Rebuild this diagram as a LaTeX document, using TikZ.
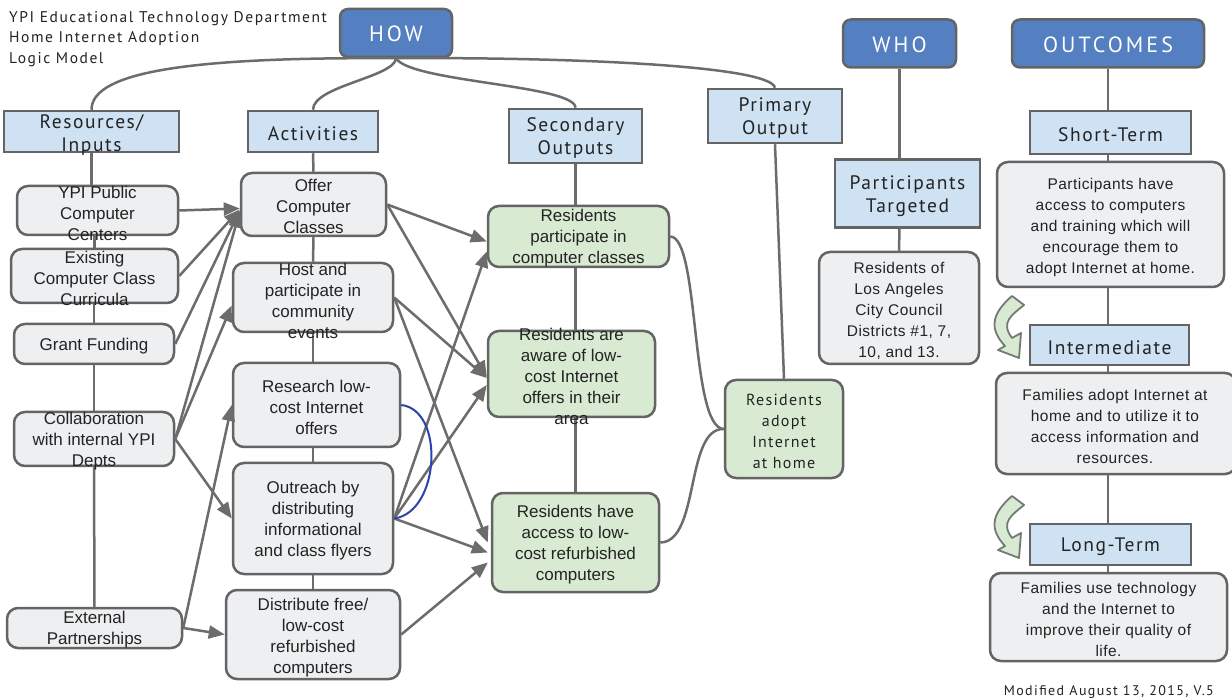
\documentclass[tikz,border=0pt]{standalone}
\usepackage{fontspec}
\setmainfont{Liberation Sans}
\newfontfamily\hf[LetterSpace=8]{PT Sans}
\newfontfamily\hft[LetterSpace=10]{PT Sans}
\newfontfamily\hfw[LetterSpace=14]{PT Sans}
\newfontfamily\rf[LetterSpace=3]{Liberation Sans}
\usetikzlibrary{arrows.meta}
\definecolor{hdrblue}{RGB}{84,127,193}
\definecolor{catblue}{RGB}{207,226,243}
\definecolor{boxgray}{RGB}{238,239,241}
\definecolor{boxgreen}{RGB}{217,234,211}
\definecolor{bordc}{RGB}{100,100,100}
\definecolor{linec}{RGB}{108,108,108}
\definecolor{txtc}{RGB}{35,35,35}
\definecolor{bluec}{RGB}{40,70,170}
\definecolor{gbord}{RGB}{115,122,115}
\begin{document}
\begin{tikzpicture}[x=1pt,y=-1pt,
  hdr/.style={draw=bordc, line width=2.5pt, fill=hdrblue, rounded corners=8pt, inner sep=0pt},
  cat/.style={draw=bordc, line width=2.5pt, fill=catblue, inner sep=0pt},
  gbox/.style={draw=bordc, line width=2.5pt, fill=boxgray, rounded corners=11pt, inner sep=0pt},
  grbox/.style={draw=bordc, line width=2.5pt, fill=boxgreen, rounded corners=11pt, inner sep=0pt},
  hdrt/.style={text=white, font=\hfw\fontsize{22}{26}\selectfont, inner sep=0pt, yshift=-1pt},
  catt/.style={text=txtc, font=\hf\fontsize{19.5}{23}\selectfont, align=center, inner sep=0pt, yshift=-2.5pt},
  btxt/.style={text=txtc, font=\fontsize{17}{21}\selectfont, align=center, inner sep=0pt, yshift=-2pt},
  rtxt/.style={text=txtc, font=\rf\fontsize{15.5}{21}\selectfont, align=center, inner sep=0pt, yshift=-2.5pt},
  adtxt/.style={text=txtc, font=\hf\fontsize{16}{21}\selectfont, align=center, inner sep=0pt, yshift=-2pt},
  conn/.style={draw=linec, line width=2.5pt},
  arr/.style={conn, -{Triangle[length=16pt,width=13pt]}},
  bcurve/.style={draw=bluec, line width=2pt},
  garrow/.style={draw=gbord, fill=boxgreen, line width=1.8pt, line join=round}
]
\useasboundingbox (0,0) rectangle (1232,700);
\fill[white] (0,0) rectangle (1232,700);

% ---------- boxes ----------
\newcommand{\bx}[6]{\node[#1, minimum width=#5pt, minimum height=#6pt] (#2) at (#3,#4) {};}
\bx{hdr}{how}{396}{33}{112}{48}
\bx{hdr}{who}{899.5}{43.5}{113}{48}
\bx{hdr}{out}{1108}{43.5}{192}{48}
\bx{cat}{res}{91.5}{131.5}{175}{41}
\bx{cat}{act}{313}{131.5}{130}{41}
\bx{cat}{sec}{575.5}{136}{133}{54}
\bx{cat}{pri}{775}{116}{134}{54}
\bx{cat}{pt}{907.5}{193.5}{145}{68}
\bx{cat}{st}{1110.5}{132.5}{161}{43}
\bx{cat}{im}{1109.5}{345}{159}{40}
\bx{cat}{lt}{1110.5}{544.5}{161}{41}
\bx{gbox}{yp}{97.5}{210.5}{161}{49}
\bx{gbox}{ex}{94.5}{276}{167}{54}
\bx{gbox}{gf}{94}{344}{160}{40}
\bx{gbox}{co}{94}{439}{160}{54}
\bx{gbox}{ep}{94.5}{628}{175}{40}
\bx{gbox}{of}{313.5}{204.5}{145}{63}
\bx{gbox}{ho}{313}{297.5}{160}{69}
\bx{gbox}{rl}{316.5}{405}{167}{84}
\bx{gbox}{ob}{313}{518.5}{160}{111}
\bx{gbox}{df}{313}{634.5}{174}{89}
\bx{gbox}{la}{899}{308}{160}{112}
\bx{gbox}{ph}{1110.5}{224.5}{227}{125}
\bx{gbox}{fa}{1116}{423.5}{240}{101}
\bx{gbox}{fu}{1108.5}{617}{237}{88}
\bx{grbox}{r1}{578.5}{236.5}{181}{61}
\bx{grbox}{r2}{571.5}{374}{167}{86}
\bx{grbox}{r3}{575.5}{542.5}{167}{99}
\bx{grbox}{ad}{784}{429}{118}{98}

% ---------- tree connectors ----------
\draw[conn] (how.south) .. controls (200,57) and (res.north |- 0,70) .. (res.north);
\draw[conn] (how.south) .. controls (395,77) and (313,86) .. (act.north);
\draw[conn] (how.south) .. controls (410,82) and (575,85) .. (sec.north);
\draw[conn] (how.south) .. controls (560,57) and (770,65) .. (pri.north);

\draw[conn] (res.south) -- (res.south |- yp.north);
\draw[conn] (ex.north |- yp.south) -- (ex.north);
\draw[conn] (gf.north |- ex.south) -- (gf.north);
\draw[conn] (gf.south) -- (co.north);
\draw[conn] (co.south) -- (ep.north);

\draw[conn] (act.south) -- (of.north);
\draw[conn] (of.south) -- (ho.north);
\draw[conn] (ho.south) -- (ho.south |- rl.north);
\draw[conn] (ob.north |- rl.south) -- (ob.north);
\draw[conn] (ob.south) -- (df.north);

\draw[conn] (sec.south) -- (sec.south |- r1.north);
\draw[conn] (sec.south |- r1.south) -- (sec.south |- r2.north);
\draw[conn] (sec.south |- r2.south) -- (sec.south |- r3.north);
\draw[conn] (pri.south) -- (ad.north);

\draw[conn] (who.south) -- (who.south |- pt.north);
\draw[conn] (who.south |- pt.south) -- (la.north);

\draw[conn] (out.south) -- (out.south |- st.north);
\draw[conn] (out.south |- st.south) -- (out.south |- ph.north);
\draw[conn] (out.south |- ph.south) -- (out.south |- im.north);
\draw[conn] (out.south |- im.south) -- (out.south |- fa.north);
\draw[conn] (out.south |- fa.south) -- (out.south |- lt.north);
\draw[conn] (out.south |- lt.south) -- (out.south |- fu.north);

% ---------- left arrows ----------
\draw[arr] (yp.east) -- ([yshift=-4pt]of.west);
\draw[arr] (ex.east) -- ([yshift=-5pt]of.west);
\draw[arr] (gf.east) -- ([yshift=-6pt]of.west);
\draw[arr] (co.east) -- ([yshift=-7pt]of.west);
\draw[arr] (co.east) -- ([yshift=-8pt]ho.west);
\draw[arr] (co.east) -- (ob.west);
\draw[arr] (ep.east) -- (rl.west);
\draw[arr] (ep.east) -- (df.west);

% ---------- middle arrows ----------
\draw[arr] (of.east) -- ([yshift=-5pt]r1.west);
\draw[arr] (of.east) -- ([yshift=-3pt]r2.west);
\draw[arr] (ho.east) -- ([yshift=-4pt]r2.west);
\draw[arr] (ho.east) -- ([xshift=-3pt]r3.west);
\draw[arr] (ob.east) -- ([yshift=-15pt]r1.west);
\draw[arr] (ob.east) -- ([yshift=-11pt]r2.west);
\draw[arr] (ob.east) -- ([xshift=-3pt,yshift=-10pt]r3.west);
\draw[arr] (df.east) -- ([xshift=-3pt,yshift=-20pt]r3.west);
\draw[bcurve] (rl.east) .. controls (445,410) and (440,512) .. (ob.east);

% ---------- curves to adopt ----------
\draw[conn] (r1.east) .. controls (700,237) and (690,428) .. (ad.west);
\draw[conn] (r3.east) .. controls (700,542) and (685,428) .. (ad.west);

% ---------- green bent arrows ----------
\foreach \dy in {0, 200}{
  \path[garrow, shift={(0,\dy)}] (1012,296) -- (1024,305) .. controls (1012,315) and (1000,322) .. (1012,338) -- (1021,333) -- (1019,358) -- (998,350) -- (1005,346) .. controls (990,330) and (990,315) .. cycle;
}

% ---------- texts ----------
\node[hdrt] (how-t) at (how.center) {HOW};
\node[hdrt] (who-t) at (who.center) {WHO};
\node[hdrt] (out-t) at (out.center) {OUTCOMES};
\node[catt] (res-t) at ([yshift=-1pt]res.center) {Resources/\\Inputs};
\node[catt] (act-t) at (act.center) {Activities};
\node[catt] (sec-t) at (sec.center) {Secondary\\Outputs};
\node[catt] (pri-t) at (pri.center) {Primary\\Output};
\node[catt] (pt-t) at (pt.center) {Participants\\Targeted};
\node[catt] (st-t) at (st.center) {Short-Term};
\node[catt] (im-t) at (im.center) {Intermediate};
\node[catt] (lt-t) at (lt.center) {Long-Term};

\node[btxt] (yp-t) at ([yshift=-1pt]yp.center) {YPI Public\\Computer\\Centers};
\node[btxt] (ex-t) at (ex.center) {Existing\\Computer Class\\Curricula};
\node[btxt] (gf-t) at (gf.center) {Grant Funding};
\node[btxt] (co-t) at (co.center) {Collaboration\\with internal YPI\\Depts};
\node[btxt] (ep-t) at (ep.center) {External\\Partnerships};
\node[btxt] (of-t) at (of.center) {Offer\\Computer\\Classes};
\node[btxt] (ho-t) at ([yshift=-1pt]ho.center) {Host and\\participate in\\community\\events};
\node[btxt] (rl-t) at (rl.center) {Research low-\\cost Internet\\offers};
\node[btxt] (ob-t) at (ob.center) {Outreach by\\distributing\\informational\\and class flyers};
\node[btxt] (df-t) at ([yshift=-1pt]df.center) {Distribute free/\\low-cost\\refurbished\\computers};
\node[btxt] (r1-t) at (r1.center) {Residents\\participate in\\computer classes};
\node[btxt] (r2-t) at (r2.center) {Residents are\\aware of low-\\cost Internet\\offers in their\\area};
\node[btxt] (r3-t) at (r3.center) {Residents have\\access to low-\\cost refurbished\\computers};
\node[adtxt] (ad-t) at (ad.center) {Residents\\adopt\\Internet\\at home};
\node[rtxt] (la-t) at (la.center) {Residents of\\Los Angeles\\City Council\\Districts \#1, 7,\\10, and 13.};
\node[rtxt] (ph-t) at (ph.center) {Participants have\\access to computers\\and training which will\\encourage them to\\adopt Internet at home.};
\node[rtxt] (fa-t) at ([xshift=-1pt]fa.center) {Families adopt Internet at\\home and to utilize it to\\access information and\\resources.};
\node[rtxt] (fu-t) at (fu.center) {Families use technology\\and the Internet to\\improve their quality of\\life.};

\node[text=txtc, font=\hft\fontsize{15.5}{20.5}\selectfont, align=left, inner sep=0pt, anchor=north west] (title) at (9,11) {YPI Educational Technology Department\\Home Internet Adoption\\Logic Model};
\node[text=txtc, font=\hft\fontsize{14}{16}\selectfont, inner sep=0pt, anchor=base east] (mod) at (1214,695) {Modified August 13, 2015, V.5};
\end{tikzpicture}
\end{document}
